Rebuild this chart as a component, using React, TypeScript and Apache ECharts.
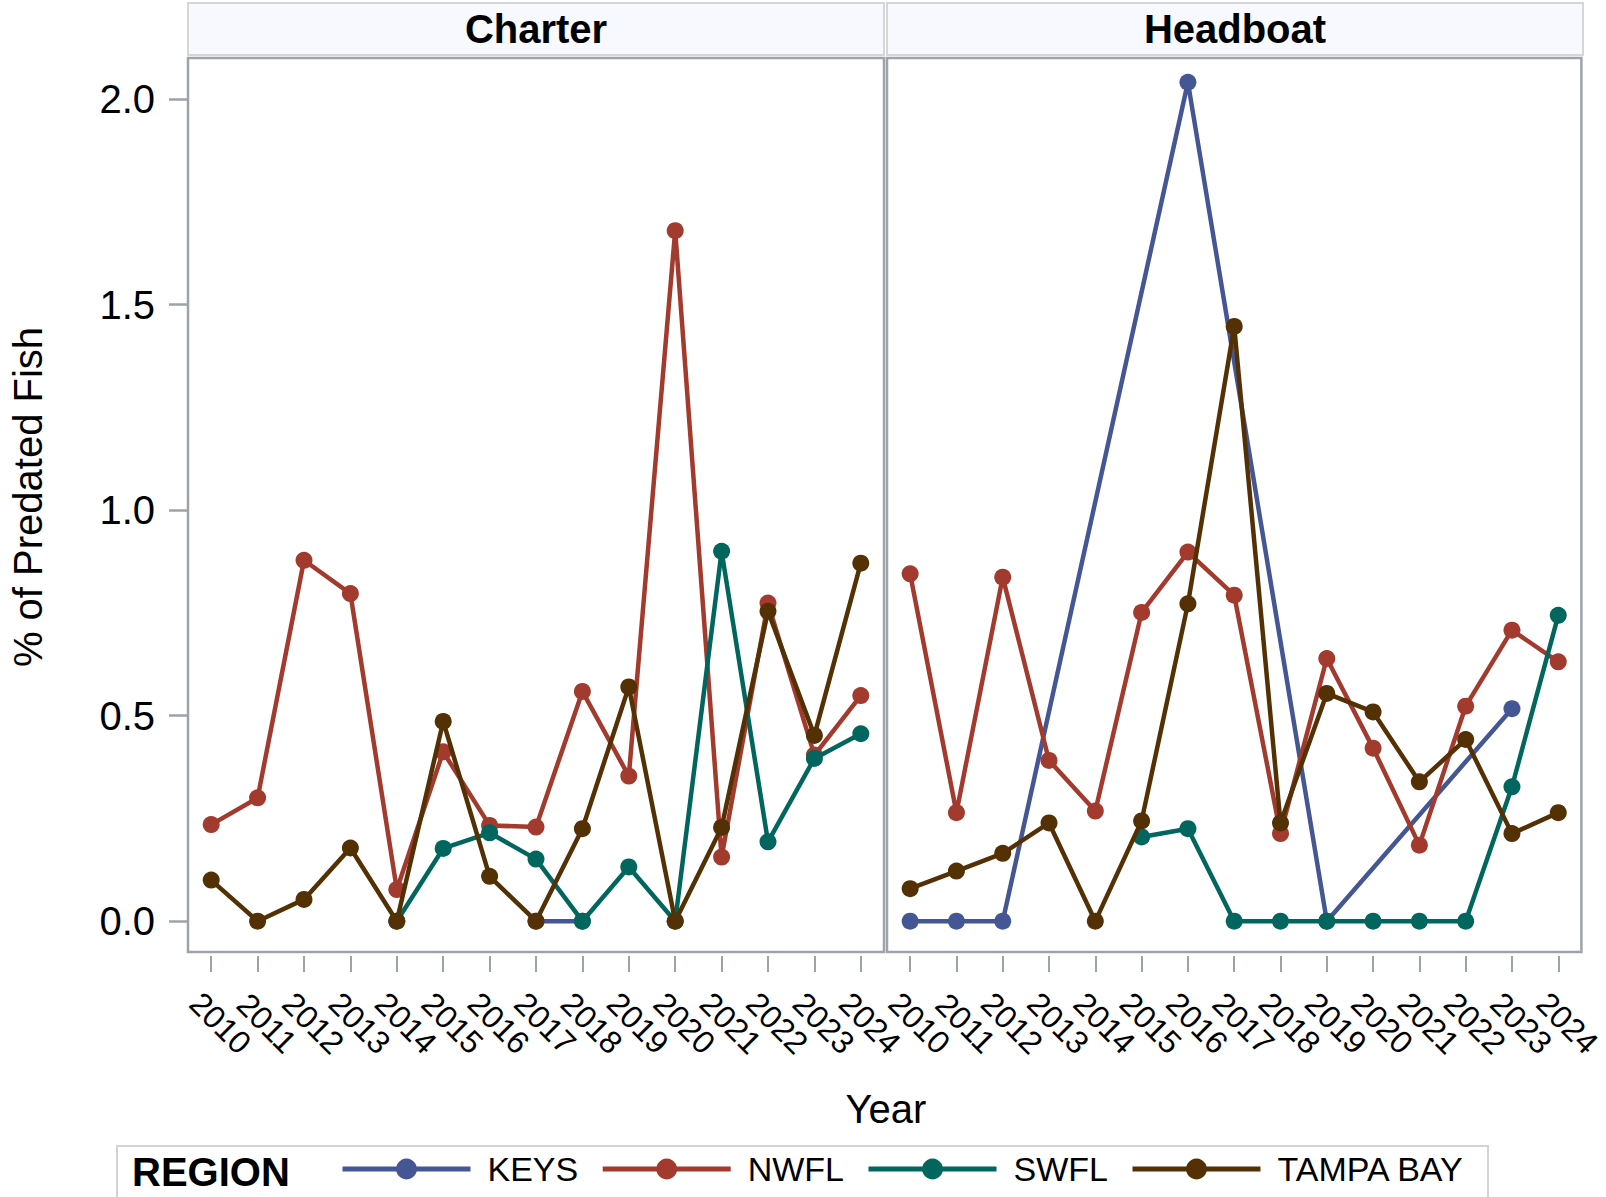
import React, { useEffect, useRef } from "react";
import * as echarts from "echarts";

const years = ["2010", "2011", "2012", "2013", "2014", "2015", "2016", "2017", "2018", "2019", "2020", "2021", "2022", "2023", "2024"];
const yTicks = [0, 0.5, 1.0, 1.5, 2.0];
const regions = ["KEYS", "NWFL", "SWFL", "TAMPA BAY"];
const regionColors = ["#445694", "#A23A2E", "#01665E", "#543005"];
const panels = ["Charter", "Headboat"];

const charterKeys = [null, null, null, null, null, null, null, 0, 0, null, null, null, null, null, null];
const charterNwfl = [0.235, 0.3, 0.878, 0.797, 0.077, 0.412, 0.233, 0.229, 0.559, 0.353, 1.68, 0.156, 0.774, 0.404, 0.549];
const charterSwfl = [null, null, null, null, 0, 0.177, 0.215, 0.151, 0, 0.132, 0, 0.9, 0.193, 0.396, 0.456];
const charterTampa = [0.1, 0, 0.053, 0.178, 0, 0.486, 0.109, 0, 0.225, 0.57, 0, 0.228, 0.754, 0.452, 0.871];

const headKeys = [0, 0, 0, null, null, null, 2.041, null, null, 0, null, null, null, 0.517, null];
const headNwfl = [0.845, 0.264, 0.837, 0.391, 0.268, 0.751, 0.898, 0.793, 0.213, 0.639, 0.421, 0.185, 0.523, 0.708, 0.631];
const headSwfl = [null, null, null, null, null, 0.205, 0.225, 0, 0, 0, 0, 0, 0, 0.327, 0.744];
const headTampa = [0.079, 0.122, 0.165, 0.239, 0, 0.244, 0.772, 1.447, 0.239, 0.554, 0.509, 0.339, 0.442, 0.213, 0.264];

const panelData = [
  [charterKeys, charterNwfl, charterSwfl, charterTampa],
  [headKeys, headNwfl, headSwfl, headTampa],
];

const FONT = "'Liberation Sans', Arial, Helvetica, sans-serif";
const AXIS_GRAY = "#9da3a8";

export default function App() {
  const ref = useRef<HTMLDivElement>(null);

  useEffect(() => {
    if (!ref.current) return;
    const chart = echarts.init(ref.current, null, { renderer: "svg" });

    const grids = [
      { left: 188, top: 58, width: 696, height: 894 },
      { left: 887, top: 58, width: 696, height: 894 },
    ].map((g) => ({ ...g, show: true, borderColor: AXIS_GRAY, borderWidth: 2.5, backgroundColor: "#fff" }));

    const xAxes = panels.map((_, i) => ({
      type: "category",
      gridIndex: i,
      data: years,
      boundaryGap: true,
      position: "bottom",
      offset: 4,
      axisLine: { show: false, onZero: false },
      axisTick: { show: true, alignWithLabel: true, length: 16, lineStyle: { color: AXIS_GRAY, width: 2 } },
      axisLabel: {
        interval: 0,
        rotate: -45,
        fontSize: 32,
        color: "#000",
        fontFamily: FONT,
        margin: 58,
        align: "center",
        verticalAlign: "middle",
        padding: [0, 0, 0, 26],
      },
      splitLine: { show: false },
    }));

    const yAxes = panels.map((_, i) => ({
      type: "value",
      gridIndex: i,
      min: -0.075,
      max: 2.1,
      axisLine: { show: false, onZero: false },
      axisTick: {
        show: i === 0,
        length: 19,
        customValues: yTicks,
        lineStyle: { color: AXIS_GRAY, width: 2.5 },
      },
      axisLabel: {
        show: i === 0,
        customValues: yTicks,
        formatter: (v: number) => v.toFixed(1),
        fontSize: 40,
        color: "#000",
        fontFamily: FONT,
        margin: 33,
      },
      splitLine: { show: false },
    }));

    const series: any[] = [];
    panels.forEach((_, p) => {
      regions.forEach((name, r) => {
        series.push({
          type: "line",
          name,
          xAxisIndex: p,
          yAxisIndex: p,
          data: panelData[p][r],
          connectNulls: true,
          symbol: "circle",
          symbolSize: 17,
          showSymbol: true,
          color: regionColors[r],
          lineStyle: { width: 4.5, color: regionColors[r] },
          itemStyle: { color: regionColors[r] },
          emphasis: { disabled: true },
          z: 3 + r,
        });
      });
    });

    const headerEls: any[] = [];
    grids.forEach((g, i) => {
      headerEls.push({
        type: "rect",
        shape: { x: g.left, y: 3, width: g.width, height: 52 },
        style: { fill: "#f8f9fe", stroke: "#d6d6d6", lineWidth: 2 },
        z: 1,
      });
      headerEls.push({
        type: "text",
        x: g.left + g.width / 2,
        y: 28.5,
        style: {
          text: panels[i],
          fontSize: 40,
          fontWeight: "bold",
          fontFamily: FONT,
          fill: "#000",
          align: "center",
          verticalAlign: "middle",
        },
        z: 2,
      });
    });

    chart.setOption({
      animation: false,
      backgroundColor: "#fff",
      textStyle: { fontFamily: FONT },
      grid: grids,
      xAxis: xAxes,
      yAxis: yAxes,
      series,
      legend: {
        data: regions,
        left: 340,
        top: 1152,
        padding: 0,
        itemWidth: 128,
        itemHeight: 26,
        itemGap: 22,
        selectedMode: false,
        lineStyle: { width: 5 },
        textStyle: { fontSize: 34, color: "#000", fontFamily: FONT, padding: [0, 0, 0, 12] },
      },
      graphic: [
        ...headerEls,
        {
          type: "text",
          x: 28,
          y: 497,
          rotation: Math.PI / 2,
          style: {
            text: "% of Predated Fish",
            fontSize: 40,
            fontFamily: FONT,
            fill: "#000",
            align: "center",
            verticalAlign: "middle",
          },
        },
        {
          type: "text",
          x: 886,
          y: 1109,
          style: {
            text: "Year",
            fontSize: 40,
            fontFamily: FONT,
            fill: "#000",
            align: "center",
            verticalAlign: "middle",
          },
        },
        {
          type: "rect",
          shape: { x: 117, y: 1146, width: 1371, height: 80 },
          style: { fill: "#fff", stroke: "#d3d3d3", lineWidth: 2 },
          z: -1,
        },
        {
          type: "text",
          x: 132,
          y: 1172,
          style: {
            text: "REGION",
            fontSize: 40,
            fontWeight: "bold",
            fontFamily: FONT,
            fill: "#000",
            align: "left",
            verticalAlign: "middle",
          },
        },
      ],
    });

    return () => chart.dispose();
  }, []);

  return (
    <div style={{ position: "fixed", left: 0, top: 0, width: 1606, height: 1197, background: "#fff" }}>
      <div ref={ref} style={{ width: 1606, height: 1197 }} />
    </div>
  );
}
